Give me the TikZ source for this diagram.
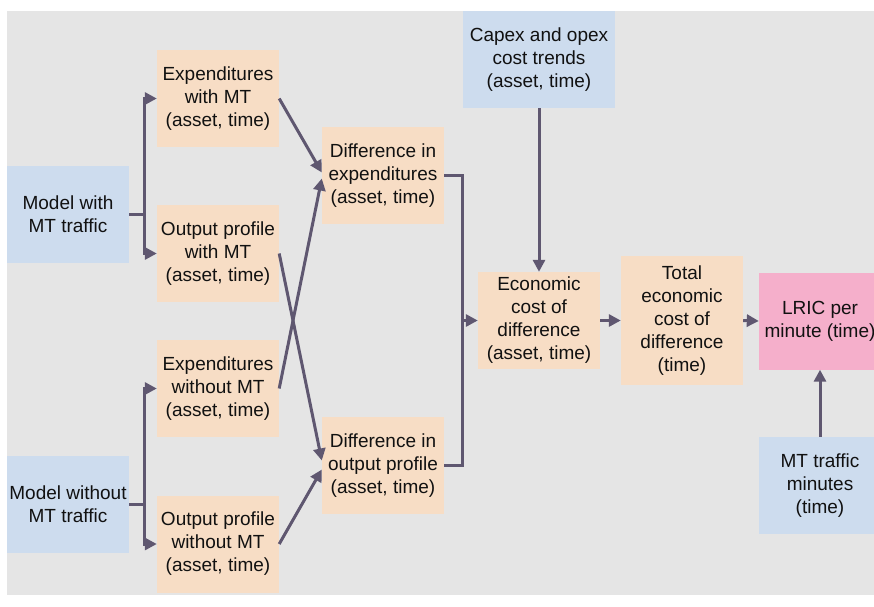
\documentclass[tikz,border=0pt]{standalone}
\usepackage{fontspec}
\setmainfont{Liberation Sans}
\usetikzlibrary{arrows.meta}
\definecolor{bgc}{HTML}{E5E5E5}
\definecolor{peach}{HTML}{F7DDC5}
\definecolor{bluec}{HTML}{CDDCEE}
\definecolor{pinkc}{HTML}{F5AFCB}
\definecolor{linec}{HTML}{5F5770}
\definecolor{txtc}{HTML}{111111}
\begin{document}
\begin{tikzpicture}[x=1pt,y=1pt,
  box/.style={inner sep=0pt, minimum width=122pt, minimum height=97pt, align=center,
    font=\fontsize{19}{23}\selectfont, text=txtc},
  obox/.style={box, fill=peach},
  bbox/.style={box, fill=bluec},
  pbox/.style={box, fill=pinkc},
  conn/.style={draw=linec, line width=3pt},
  arr/.style={conn, -{Triangle[length=12pt,width=12pt]}}]
\useasboundingbox (0,0) rectangle (874,-606);
\path[fill=bgc] (7,-11) rectangle (880,-595);

\node[bbox] (mw) at (68,-214.5) {Model with\\MT traffic};
\node[bbox] (mwo) at (68,-504.5) {Model without\\MT traffic};
\node[obox] (ew) at (218,-98.5) {Expenditures\\with MT\\(asset, time)};
\node[obox] (ow) at (218,-253.5) {Output profile\\with MT\\(asset, time)};
\node[obox] (ewo) at (218,-388.5) {Expenditures\\without MT\\(asset, time)};
\node[obox] (owo) at (218,-544) {Output profile\\without MT\\(asset, time)};
\node[obox] (de) at (383,-175.5) {Difference in\\expenditures\\(asset, time)};
\node[obox] (dop) at (383,-465.5) {Difference in\\output profile\\(asset, time)};
\node[bbox, minimum width=152pt] (cap) at (539,-59.5) {Capex and opex\\cost trends\\(asset, time)};
\node[obox] (ec) at (539,-320.5) {Economic\\cost of\\difference\\(asset, time)};
\node[obox, minimum height=129pt] (tot) at (682,-320.5) {Total\\economic\\cost of\\difference\\(time)};
\node[pbox] (lric) at (820,-321) {LRIC per\\minute (time)};
\node[bbox] (mtm) at (820,-485.5) {MT traffic\\minutes\\(time)};

\coordinate (j1) at (144,-214.5);
\coordinate (j2) at (144,-504.5);
\coordinate (j3) at (462,-320.5);

\draw[conn] (mw.east) -- (j1);
\draw[arr] (j1) |- (ew.west);
\draw[arr] (j1) |- (ow.west);
\draw[conn] (mwo.east) -- (j2);
\draw[arr] (j2) |- (ewo.west);
\draw[arr] (j2) |- (owo.west);

\draw[arr] (ew.east) -- ([yshift=3pt]de.west);
\draw[arr] (ewo.east) -- ([yshift=-3pt]de.west);
\draw[arr] (ow.east) -- ([yshift=5pt]dop.west);
\draw[arr] (owo.east) -- ([yshift=-4pt]dop.west);

\draw[conn] (de.east) -| (j3) |- (dop.east);
\draw[arr] (j3) -- (ec.west);
\draw[arr] (cap.south) -- (ec.north);
\draw[arr] (ec.east) -- (tot.west);
\draw[arr] (tot.east) -- (lric.west);
\draw[arr] (mtm.north) -- (lric.south);
\end{tikzpicture}
\end{document}
